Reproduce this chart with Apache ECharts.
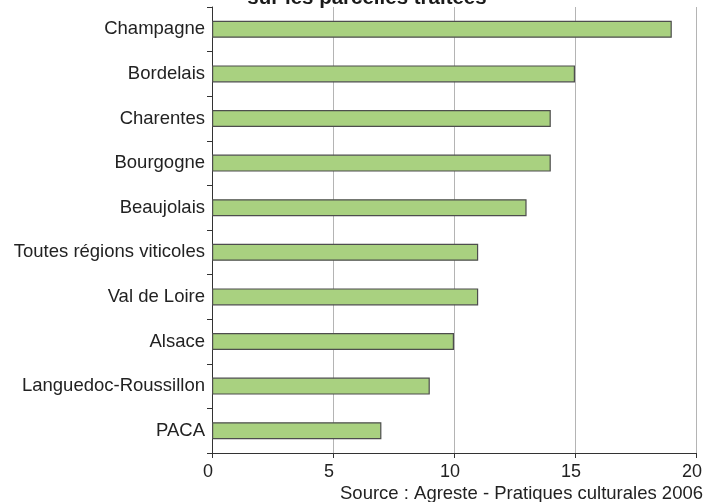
<!DOCTYPE html>
<html><head><meta charset="utf-8">
<script src="https://cdn.jsdelivr.net/npm/echarts@6/dist/echarts.min.js"></script>
<style>html,body{margin:0;padding:0;background:#fff}#c{width:705px;height:502px}</style>
</head><body><div id="c"></div>
<script>
const categories = ["PACA","Languedoc-Roussillon","Alsace","Val de Loire","Toutes régions viticoles","Beaujolais","Bourgogne","Charentes","Bordelais","Champagne"];
const values = [7, 9, 10, 11, 11, 13, 14, 14, 15, 19];
const xTicks = [0, 5, 10, 15, 20];
const titleText = "sur les parcelles traitées";
const sourceText = "Source : Agreste - Pratiques culturales 2006";

const chart = echarts.init(document.getElementById('c'), null, {renderer:'canvas'});
chart.setOption({
  animation: false,
  backgroundColor: '#fff',
  title: {
    text: titleText, left: 362, top: -17, textAlign: 'center',
    textStyle: {fontFamily: 'Liberation Sans, Arial', fontSize: 20.5, fontWeight: 'bold', color: '#1a1a1a'}
  },
  graphic: [{
    type: 'text', right: 2, bottom: -1,
    style: {text: sourceText, fontFamily: 'Liberation Sans, Arial', fontSize: 18.5, fill: '#222'}
  }],
  grid: {left: 212, right: 8, top: 7, bottom: 49, containLabel: false},
  xAxis: {
    type: 'value', min: xTicks[0], max: xTicks[xTicks.length-1], interval: 5,
    axisLine: {show: true, lineStyle: {color: '#333', width: 1}},
    axisTick: {show: true, length: 5, lineStyle: {color: '#333'}},
    axisLabel: {fontFamily: 'Liberation Sans, Arial', fontSize: 18, color: '#222', margin: 10, padding: [0, 8, 0, 0]},
    splitLine: {show: true, lineStyle: {color: '#b4b4b4', width: 1}}
  },
  yAxis: {
    type: 'category', data: categories,
    axisLine: {show: true, lineStyle: {color: '#333', width: 1}},
    axisTick: {show: true, length: 5, lineStyle: {color: '#333'}},
    axisLabel: {fontFamily: 'Liberation Sans, Arial', fontSize: 18.5, color: '#222', margin: 7}
  },
  series: [{
    type: 'bar', data: values, barWidth: 17,
    itemStyle: {color: '#a9d180', borderColor: '#4d4d4d', borderWidth: 1.2}
  }]
});
</script></body></html>
